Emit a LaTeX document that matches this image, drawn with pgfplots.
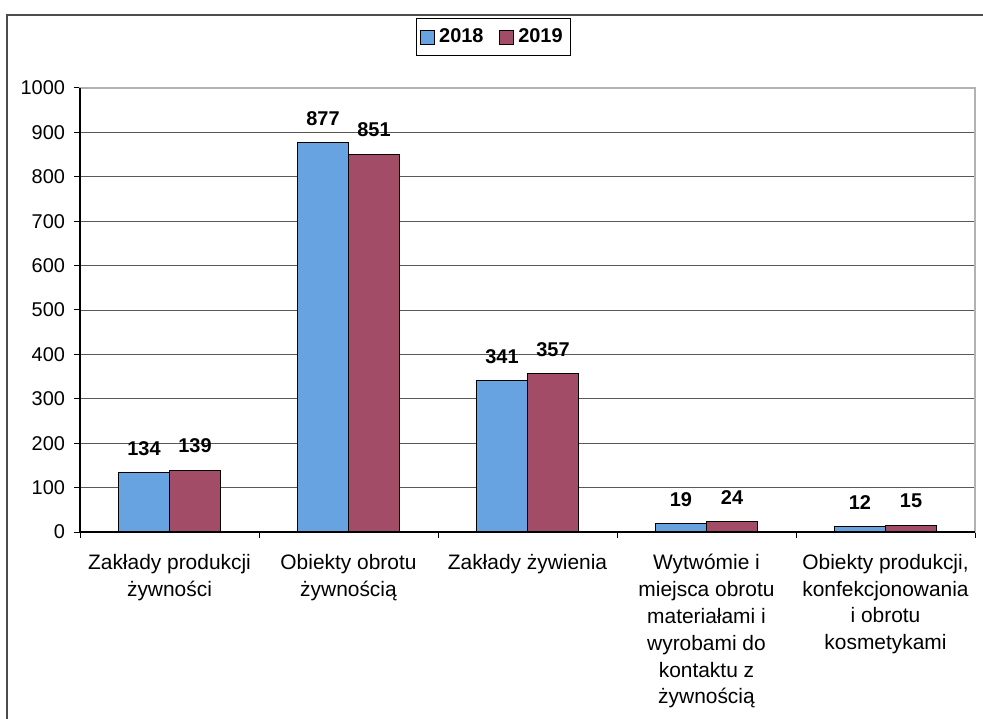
\documentclass[border=0pt]{standalone}
\usepackage{pgfplots}
\pgfplotsset{compat=1.18}
\usepackage{fontspec}
\setmainfont{Liberation Sans}
\definecolor{b18}{RGB}{102,163,224}
\definecolor{m19}{RGB}{163,76,104}
\begin{document}
\begin{tikzpicture}
\useasboundingbox (0bp,0bp) rectangle (491.5bp,359.5bp);
\draw[gray!60!black, line width=0.8bp] (3.5bp,352bp) rectangle (500bp,-10bp);
\begin{axis}[at={(40bp,93.5bp)}, anchor=south west, width=447.5bp, height=222bp, scale only axis,
  ybar=0pt, bar width=0.285,
  xmin=-0.5, xmax=4.5, ymin=0, ymax=1000,
  xtick={0,1,2,3,4},
  xticklabels={{Zakłady produkcji\\żywności},{Obiekty obrotu\\żywnością},{Zakłady żywienia},{Wytwómie i\\miejsca obrotu\\materiałami i\\wyrobami do\\kontaktu z\\żywnością},{Obiekty produkcji,\\konfekcjonowania\\i obrotu\\kosmetykami}},
  major x tick style={draw=none},
  minor xtick={-0.5,0.5,1.5,2.5,3.5,4.5},
  minor tick length=3bp, major tick length=3bp,
  tick align=outside, xtick pos=bottom, ytick pos=left,
  ytick={0,100,...,1000},
  tick style={black, line width=0.5bp},
  ymajorgrids, grid style={gray!70!black, line width=0.4bp},
  axis line style={gray!60, line width=0.6bp},
  xticklabel style={align=center, font=\fontsize{10.5}{13.5}\selectfont, yshift=-4.5bp},
  yticklabel style={font=\fontsize{10}{12}\selectfont, xshift=-1bp},
  /pgf/number format/assume math mode=true,
  /pgf/number format/1000 sep={},
  nodes near coords,
  nodes near coords style={font=\bfseries\fontsize{10}{12}\selectfont, yshift=5bp, text=black},
  clip=false,
  legend style={at={(0.462,1.115)}, anchor=center, legend columns=2, draw=black, line width=0.5bp,
    font=\bfseries\fontsize{10}{12}\selectfont, inner ysep=3bp, inner xsep=2bp,
    /tikz/every even column/.append style={column sep=6bp}},
  legend image code/.code={\draw[#1, draw=black, line width=0.4bp] (0bp,-3.5bp) rectangle (7bp,3.5bp);},
]
\addplot[fill=b18, draw=black, line width=0.6bp] coordinates {(0,134) (1,877) (2,341) (3,19) (4,12)};
\addplot[fill=m19, draw=black, line width=0.6bp] coordinates {(0,139) (1,851) (2,357) (3,24) (4,15)};
\legend{2018,2019}
\draw[black, line width=0.6bp] (rel axis cs:0,1) -- (rel axis cs:0,0) -- (rel axis cs:1,0);
\end{axis}
\end{tikzpicture}
\end{document}
